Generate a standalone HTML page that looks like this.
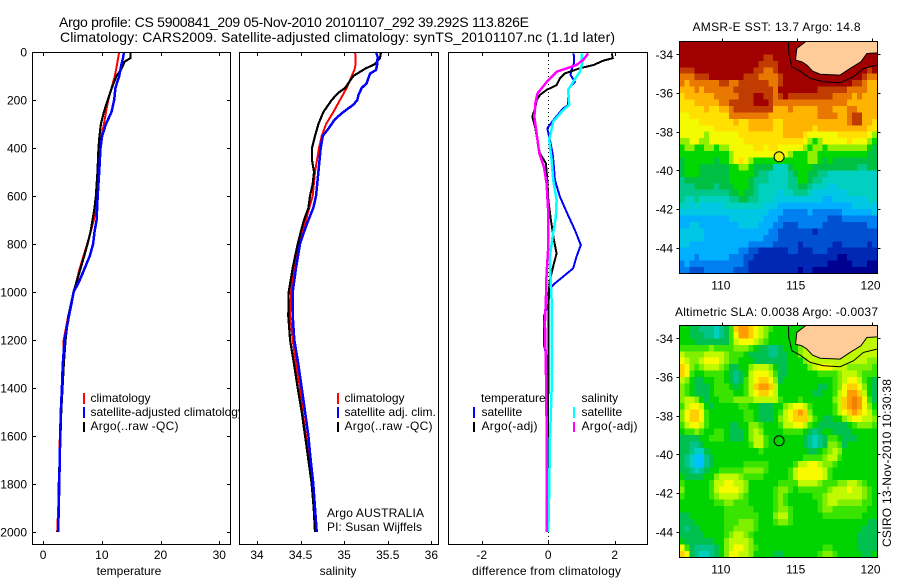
<!DOCTYPE html>
<html lang="en">
<head>
<meta charset="utf-8">
<title>Argo profile chart</title>
<style>
html,body{margin:0;padding:0;background:#fff;}
svg{display:block;font-family:"Liberation Sans",sans-serif;font-size:12px;fill:#000;}
text{fill:#000;}
</style>
</head>
<body>
<svg id="chart" xmlns="http://www.w3.org/2000/svg" width="900" height="580" viewBox="0 0 900 580">
<rect x="0" y="0" width="900" height="580" fill="#fff"/>
<text x="59" y="27" font-size="14" textLength="470" lengthAdjust="spacing">Argo profile: CS 5900841_209 05-Nov-2010 20101107_292 39.292S 113.826E</text>
<text x="60" y="42" font-size="14" textLength="555" lengthAdjust="spacing">Climatology: CARS2009. Satellite-adjusted climatology: synTS_20101107.nc (1.1d later)</text>

<g id="panel-temp">
  <g id="plot-temp"></g>
  <g>
    <rect x="83" y="393" width="2" height="11" fill="#f00"/>
    <text x="90.5" y="402">climatology</text>
    <rect x="83" y="407" width="2" height="11" fill="#00f"/>
    <text x="90.5" y="416">satellite-adjusted climatology</text>
    <rect x="83" y="422" width="2" height="10" fill="#000"/>
    <text x="90.5" y="430" textLength="88" lengthAdjust="spacing">Argo(..raw -QC)</text>
  </g>
  <text x="129" y="575" text-anchor="middle">temperature</text>
</g>

<g id="panel-sal">
  <rect x="239" y="52" width="200" height="493" fill="#fff"/>
  <g id="plot-sal"></g>
  <g>
    <rect x="337" y="393" width="2" height="11" fill="#f00"/>
    <text x="344.5" y="402">climatology</text>
    <rect x="337" y="407" width="2" height="11" fill="#00f"/>
    <text x="344.5" y="416">satellite adj. clim.</text>
    <rect x="337" y="422" width="2" height="10" fill="#000"/>
    <text x="344.5" y="430" textLength="88" lengthAdjust="spacing">Argo(..raw -QC)</text>
  </g>
  <text x="327" y="517" textLength="97" lengthAdjust="spacing">Argo AUSTRALIA</text>
  <text x="327" y="531" textLength="95" lengthAdjust="spacing">PI: Susan Wijffels</text>
  <text x="338" y="575" text-anchor="middle">salinity</text>
</g>

<g id="panel-diff">
  <rect x="448" y="52" width="200" height="493" fill="#fff"/>
  <g id="plot-diff"></g>
  <g>
    <text x="481" y="402">temperature</text>
    <rect x="473" y="407" width="2" height="11" fill="#00f"/>
    <text x="481.5" y="416">satellite</text>
    <rect x="473" y="422" width="2" height="10" fill="#000"/>
    <text x="481.5" y="430" textLength="56" lengthAdjust="spacing">Argo(-adj)</text>
    <text x="581.5" y="402">salinity</text>
    <rect x="573" y="407" width="2" height="11" fill="#0ff"/>
    <text x="581.5" y="416">satellite</text>
    <rect x="573" y="422" width="2" height="10" fill="#f0f"/>
    <text x="581.5" y="430" textLength="56" lengthAdjust="spacing">Argo(-adj)</text>
  </g>
  <text x="472" y="575" textLength="149" lengthAdjust="spacing">difference from climatology</text>
</g>

<g id="map-sst"></g>
<text x="692.5" y="31" textLength="168" lengthAdjust="spacing">AMSR-E SST: 13.7 Argo: 14.8</text>
<g id="map-sla"></g>
<text x="675" y="316" textLength="203" lengthAdjust="spacing">Altimetric SLA: 0.0038 Argo: -0.0037</text>
<text transform="translate(891,547) rotate(-90)" textLength="168" lengthAdjust="spacing">CSIRO 13-Nov-2010 10:30:38</text>
</svg>

<script>
// ---------- profile data ----------
const tempClimDepth = [0,50,100,150,200,250,300,350,400,500,600,700,800,900,1000,1100,1200,1400,1600,1800,2000];
const tempClim = [12.95,12.6,12.2,11.65,11.1,10.7,10.35,9.95,9.77,9.5,9.2,8.65,7.5,6.25,5.2,4.26,3.5,3.24,2.84,2.73,2.4];
const tempSatDepth = [0,20,50,100,150,200,250,300,350,400,500,600,700,750,800,850,900,950,1000,1100,1200,1300,1400,1500,1600,1700,1800,1900,2000];
const tempSat = [13.75,13.65,13.35,12.95,12.3,12.1,11.65,10.7,10.05,9.77,9.55,9.3,9.1,8.75,8.5,7.95,7.1,6.25,5.2,4.4,3.64,3.35,3.2,3.0,2.9,2.84,2.73,2.67,2.55];
const tempArgoDepth = [0,25,40,70,100,150,200,250,300,350,400,500,600,650,700,750,800,850,900,950,1000,1100,1200,1300,1400,1500,1600,1700,1800,1900,2000];
const tempArgo = [14.9,14.9,13.9,13.35,12.5,11.7,11,10.35,9.83,9.6,9.43,9.26,8.98,8.75,8.4,8.07,7.56,7,6.4,5.8,5.17,4.3,3.8,3.52,3.3,3.07,2.95,2.8,2.67,2.67,2.5];

const salClimDepth = [0,25,50,75,100,150,200,250,300,350,400,500,600,650,700,750,800,900,1000,1100,1200,1300,1400,1500,1600,1700,1800,1900,2000];
const salClim = [35.124,35.132,35.132,35.117,35.086,35.029,34.952,34.876,34.792,34.742,34.711,34.665,34.639,34.6,34.562,34.524,34.482,34.424,34.39,34.379,34.409,34.447,34.493,34.524,34.562,34.6,34.627,34.658,34.673];
const salSatDepth = [0,20,50,75,90,130,150,180,200,220,250,280,320,350,400,500,600,650,700,750,800,900,1000,1100,1200,1300,1400,1500,1600,1700,1800,1900,2000];
const salSat = [35.365,35.384,35.38,35.365,35.296,35.258,35.201,35.163,35.151,35.105,34.99,34.895,34.818,34.753,34.73,34.704,34.677,34.646,34.589,34.539,34.493,34.447,34.409,34.409,34.428,34.474,34.512,34.551,34.589,34.616,34.646,34.665,34.685];
const salArgoDepth = [0,25,50,70,100,150,170,200,250,300,350,400,450,500,550,600,650,700,750,800,900,1000,1100,1200,1300,1400,1500,1600,1700,1800,1900,2000];
const salArgo = [35.423,35.411,35.354,35.239,35.105,35.01,34.933,34.857,34.761,34.704,34.665,34.631,34.631,34.654,34.639,34.608,34.589,34.539,34.501,34.467,34.409,34.363,34.359,34.379,34.424,34.467,34.512,34.551,34.589,34.627,34.65,34.665];

const diffTempSatDepth = [6,19,47,75,96,124,151,193,221,235,276,318,367,422,478,533,603,672,742,804,853,901,964,985,1050,1100,1220,1270,1550,2000];
const diffTempSat = [.75,.78,.77,.70,.67,.80,.62,.60,.60,.45,.20,-.03,.05,.13,.17,.20,.35,.57,.80,.98,.85,.75,.20,.05,0,-.13,-.13,-.05,-.02,-.05];
const diffTempArgoDepth = [6,26,36,54,68,89,110,138,158,179,200,228,269,311,367,422,464,533,617,700,783,839,881,950,1019,1100,1400,2000];
const diffTempArgo = [1.91,1.94,1.66,1.36,.95,.5,.35,.25,-.05,-.25,-.35,-.38,-.48,-.40,-.33,-.25,-.07,-.03,0,.08,.17,.25,.17,.05,0,0,0,-.03];
const diffSalSatDepth = [6,47,82,124,158,221,242,290,367,450,533,617,686,769,853,950,1033,1130,1408,1617,1825,2000];
const diffSalSat = [1.0,1.02,.95,.75,.6,.63,.45,.15,.03,.1,.15,.25,.23,.13,.05,.07,.1,.1,.1,.05,.03,0];
const diffSalArgoDepth = [6,33,54,82,117,172,207,269,339,422,478,547,672,811,922,1033,1130,1310,1547,1686,2000];
const diffSalArgo = [1.2,1.05,.85,.25,0,-.32,-.38,-.42,-.35,-.27,-.13,-.05,0,0,-.05,-.07,-.1,-.07,-.05,-.04,-.05];

// ---------- tick labels ----------
const depthTicks = [0,200,400,600,800,1000,1200,1400,1600,1800,2000];
const tempTicks = [0,10,20,30];
const salTicks = [34,34.5,35,35.5,36];
const diffTicks = [-2,0,2];
const lonTicks = [110,115,120];
const latTicks = [-34,-36,-38,-40,-42,-44];

// ---------- map data (colour level per grid cell, north to south) ----------
const sstPalette = ['#000090','#0028b4','#0050d2','#0080f0','#00b0ff','#00c8e4','#00d0c0','#00c888','#00c044','#00d800','#90f000','#f4fa00','#ffe000','#ffb400','#e87800','#c03c00','#a00000'];
const slaPalette = ['#00c0ff','#00d0c0','#00c488','#00c050','#00d400','#38e400','#80f000','#c0fa00','#f8fa00','#ffd000','#ff9c00','#f08000'];
const sstLevels = [
[16,16,16,16,16,16,16,16,16,16,16,16,16,16,16,16,16,16,16,16,16,16,16,16,16,16,16,16,16,16,16,16,16,16,16,16,16,16,16,16],
[16,16,16,16,16,16,16,16,16,16,16,16,16,16,16,16,16,16,16,16,16,16,16,16,16,16,16,16,16,16,16,16,16,16,16,16,16,16,16,16],
[16,16,16,16,16,16,16,16,16,16,16,16,16,16,16,16,16,15,15,16,16,16,16,16,16,16,16,16,16,16,16,16,16,16,16,16,16,16,16,16],
[16,16,16,16,16,16,16,16,16,16,16,16,16,16,16,16,15,15,15,15,16,16,16,16,16,16,16,16,16,16,16,16,16,16,16,16,16,16,16,16],
[15,15,15,16,16,16,16,16,16,16,16,16,16,16,16,15,15,14,14,15,16,16,16,16,16,16,16,16,16,16,16,16,16,16,16,16,16,16,15,16],
[14,14,14,15,15,15,16,16,16,16,16,16,16,15,15,15,14,14,14,14,15,16,16,16,16,16,16,16,16,16,16,16,16,16,16,16,16,15,14,14],
[14,13,14,14,14,14,14,14,15,15,14,14,15,15,15,15,15,15,14,14,15,16,16,16,16,16,16,16,16,16,16,16,16,16,16,15,15,14,13,13],
[13,13,13,14,13,14,14,14,14,14,14,15,15,15,15,15,15,15,15,14,16,16,16,16,16,16,16,16,15,15,15,15,15,15,14,14,14,14,13,13],
[12,13,13,13,13,13,13,14,14,14,14,14,15,15,15,16,16,15,15,14,15,16,15,15,15,15,15,15,15,15,15,14,14,14,14,13,14,13,13,13],
[12,12,12,13,13,13,13,13,14,14,15,15,15,15,15,16,16,16,15,14,14,14,14,14,14,14,14,14,14,14,14,14,14,14,13,13,13,13,13,13],
[12,12,12,12,12,13,12,12,13,13,14,15,15,15,15,15,15,15,15,13,13,13,14,13,13,13,13,13,14,14,14,13,13,13,14,14,13,13,13,13],
[11,11,12,12,12,12,12,12,12,12,14,14,14,14,14,14,14,14,13,13,13,13,13,13,13,13,13,13,14,14,14,14,13,13,14,15,15,13,13,13],
[11,11,11,11,12,12,12,12,12,12,12,13,12,12,13,13,13,13,13,12,12,13,13,13,13,13,13,13,13,13,13,13,13,13,14,15,15,13,13,12],
[11,11,11,11,11,11,11,12,12,12,12,12,12,12,13,13,13,13,13,12,12,13,13,13,13,13,13,12,13,13,13,13,13,13,13,13,13,13,12,12],
[11,11,11,11,11,10,11,11,11,11,11,11,12,12,12,12,12,12,12,12,12,13,13,13,13,12,11,11,11,11,11,11,12,12,12,12,12,12,11,10],
[10,10,11,11,10,10,11,11,11,11,11,11,11,12,12,12,12,12,12,12,12,12,12,12,12,11,10,9,10,11,11,11,11,11,12,11,11,11,10,9],
[9,10,10,9,9,10,10,9,10,10,11,11,11,11,11,12,12,11,12,12,11,11,11,11,11,10,9,10,10,9,10,10,10,10,10,10,10,10,9,8],
[9,9,9,9,9,9,9,9,9,9,10,11,11,11,11,11,11,11,11,11,11,11,10,9,9,9,10,10,9,9,9,9,9,9,9,9,9,9,8,8],
[8,9,9,9,9,9,9,8,9,9,10,11,12,11,10,9,9,9,9,9,9,9,9,9,9,9,10,10,9,8,9,8,8,8,8,8,8,8,8,8],
[8,9,9,9,8,8,8,8,8,8,9,9,10,10,9,8,8,8,8,6,6,6,8,9,9,9,9,8,8,8,8,8,8,8,8,8,7,7,8,8],
[8,9,9,9,8,8,8,8,8,8,9,9,9,9,9,8,7,7,6,6,6,6,7,8,9,9,8,8,7,7,6,6,6,6,6,6,6,6,6,6],
[7,8,8,8,8,8,8,8,8,8,9,9,9,9,8,7,7,7,6,6,6,6,7,7,9,9,8,7,7,6,6,6,6,6,6,6,6,6,6,6],
[7,7,7,8,8,8,8,7,8,8,8,9,9,9,8,7,6,6,6,6,6,6,7,7,8,8,7,6,6,6,5,5,6,6,6,6,6,6,6,6],
[7,7,7,7,7,7,7,7,7,7,8,8,9,8,8,7,6,6,6,6,5,6,6,7,7,7,6,5,5,5,5,5,5,5,6,6,6,6,6,6],
[7,6,6,7,6,6,6,6,6,6,7,7,8,8,7,7,6,6,6,5,5,5,5,5,5,5,5,5,5,4,4,5,5,5,5,5,5,5,6,6],
[6,6,5,6,5,5,5,5,5,6,6,6,6,6,6,6,6,5,5,5,4,4,4,4,4,4,4,4,4,4,4,4,4,4,4,5,5,5,5,5],
[5,5,5,5,5,5,5,5,5,5,5,5,5,5,5,5,5,5,4,4,4,3,3,3,3,3,4,3,3,3,3,3,3,4,4,4,4,4,4,5],
[4,4,4,4,4,4,4,4,4,4,5,5,5,5,5,5,5,4,4,4,3,3,3,3,3,3,3,3,3,3,2,2,2,3,3,3,3,3,3,3],
[4,4,5,5,4,4,4,4,4,4,4,4,5,5,5,5,4,4,4,3,3,2,2,2,3,3,3,3,3,2,2,2,2,2,2,2,2,2,3,3],
[5,5,5,5,5,4,4,4,4,4,4,4,4,4,4,4,4,4,3,3,2,2,2,2,2,2,2,1,2,2,2,2,2,2,2,2,2,2,2,2],
[5,5,5,5,5,4,4,4,4,4,4,4,4,4,4,4,4,3,3,3,2,2,2,2,2,2,2,2,2,2,2,2,2,2,2,2,2,2,2,2],
[5,5,4,4,4,4,4,4,4,4,4,4,4,4,3,3,3,3,3,2,2,2,2,2,1,2,2,2,2,2,2,1,1,2,2,2,2,2,1,2],
[4,4,4,4,4,4,4,4,4,4,4,4,3,3,2,2,1,1,1,1,1,1,2,2,1,1,1,2,2,2,1,1,1,1,1,1,1,1,1,1],
[4,4,4,3,4,4,4,4,4,4,3,3,3,2,2,1,1,1,1,1,1,1,1,1,1,1,1,1,1,1,1,1,0,0,1,1,1,1,1,1],
[3,4,3,3,3,3,3,3,3,3,3,3,3,2,1,1,1,1,1,1,1,1,1,1,1,1,1,1,1,1,0,0,0,0,0,1,1,1,0,0],
[3,3,2,2,2,3,3,3,3,3,3,2,2,2,1,1,1,1,1,1,1,1,1,1,0,1,1,0,0,0,0,0,0,0,0,0,0,0,0,0]
];
const slaLevels = [
[4,4,3,3,2,2,2,1,2,3,5,9,10,10,9,8,7,6,5,4,4,4,4,4,4,5,6,7,7,7,7,7,7,7,7,7,7,7,7,7],
[4,4,3,3,3,2,2,1,2,3,5,8,10,10,9,8,7,6,4,4,4,4,4,4,5,6,7,7,7,7,7,7,7,7,7,7,7,7,7,7],
[4,4,4,3,3,3,3,3,3,3,5,7,8,8,8,7,6,5,4,4,4,4,4,4,6,7,7,7,7,7,7,7,7,7,7,7,7,7,7,7],
[5,5,5,5,5,5,6,5,5,5,5,6,6,6,5,4,3,3,2,2,3,4,4,4,6,7,7,7,7,7,7,7,7,7,7,7,7,7,7,7],
[7,6,6,6,6,7,7,7,7,6,5,5,5,4,3,3,3,3,2,2,3,3,4,4,6,7,7,7,7,7,7,7,7,7,7,7,7,7,7,7],
[8,7,6,6,7,8,8,8,7,6,5,5,4,4,4,3,3,3,3,3,3,3,4,4,4,6,7,7,7,7,7,7,7,7,7,7,7,7,6,6],
[9,8,6,5,6,7,7,7,6,5,3,3,4,4,6,7,7,7,6,4,3,3,4,4,4,4,6,7,8,8,8,7,7,7,6,6,6,6,6,5],
[9,8,5,4,4,5,5,5,5,4,3,2,3,4,7,8,8,8,7,5,3,3,4,4,4,4,4,4,5,5,5,5,6,7,7,7,6,5,5,5],
[7,6,4,3,3,4,4,5,5,4,3,2,3,5,7,8,9,9,8,6,3,4,4,4,4,4,4,4,4,4,4,5,6,7,8,8,7,5,4,3],
[6,5,4,3,3,3,4,5,5,5,4,3,4,5,7,9,10,10,9,7,4,4,4,4,4,4,4,4,3,3,4,5,6,8,9,9,8,6,4,3],
[6,5,4,3,3,3,4,5,5,5,5,4,4,5,7,8,9,9,8,7,4,4,4,4,4,4,4,3,3,4,4,5,7,8,10,10,9,7,4,3],
[6,7,7,6,4,3,4,4,5,5,5,6,6,6,6,7,7,7,7,7,5,4,4,4,5,4,4,4,4,4,4,6,7,9,10,11,10,8,5,3],
[5,7,8,8,7,4,3,4,4,4,4,4,5,5,4,4,3,3,3,4,4,6,7,8,8,7,5,4,4,4,4,5,7,9,10,11,10,8,6,4],
[6,8,9,9,8,5,4,4,4,4,4,4,4,5,5,4,3,3,3,4,5,7,8,9,10,9,6,4,4,4,4,5,7,8,9,10,9,8,7,5],
[6,8,9,9,8,5,4,4,4,4,4,4,4,5,5,4,3,3,3,4,6,7,8,9,9,9,7,5,4,3,3,4,4,6,7,8,8,7,7,6],
[5,7,8,8,7,5,4,4,4,4,3,3,4,4,6,6,5,4,4,4,5,7,7,8,8,7,5,4,3,3,3,3,3,3,4,5,6,6,6,5],
[4,5,5,6,5,4,4,5,5,4,3,3,3,4,6,7,6,4,4,4,4,5,5,5,5,4,3,2,3,4,4,3,3,3,3,4,4,4,4,4],
[3,3,3,3,4,4,5,5,5,4,3,3,3,4,6,7,7,5,4,4,4,4,4,4,4,3,2,1,2,3,5,5,4,3,3,3,4,4,4,4],
[3,3,2,2,3,4,4,4,4,4,4,4,4,4,5,7,7,5,4,4,4,4,4,4,4,3,2,1,2,3,6,6,5,3,4,4,4,4,4,4],
[3,3,2,1,1,3,4,4,4,4,4,4,4,4,4,4,5,4,4,4,4,4,4,4,4,4,3,3,4,5,6,7,6,4,4,4,4,4,4,4],
[3,2,1,0,0,2,3,4,4,4,4,4,4,4,4,4,4,4,4,4,4,4,4,4,4,5,5,5,5,6,7,7,5,4,4,4,4,4,4,4],
[3,2,1,0,0,2,3,4,4,4,4,4,4,5,5,5,5,5,4,4,4,4,4,5,7,7,8,8,7,6,6,5,4,4,4,4,4,4,4,4],
[3,3,2,1,2,3,4,4,5,5,5,5,5,6,6,6,6,5,4,4,4,4,5,7,8,8,8,8,8,7,5,4,4,4,4,4,4,4,4,4],
[4,3,3,3,3,4,4,6,7,7,7,7,6,5,5,5,5,4,4,4,4,4,5,7,8,8,8,8,8,7,5,4,4,4,4,4,4,4,4,4],
[5,4,4,4,4,4,5,7,7,8,8,7,7,6,4,4,4,4,4,4,5,5,5,5,7,7,7,7,6,5,5,5,6,6,7,7,6,5,4,4],
[6,4,4,4,4,4,5,7,8,8,8,8,7,6,4,4,4,4,4,5,6,6,5,4,5,5,5,5,5,5,6,7,7,7,8,7,7,6,5,4],
[5,4,4,4,4,4,5,6,7,7,7,7,6,5,4,4,4,4,4,5,6,5,4,4,4,4,4,5,5,6,7,7,7,7,7,7,7,6,5,4],
[4,4,4,4,4,4,4,5,5,6,6,5,5,5,4,4,4,4,4,5,6,5,4,4,4,4,4,4,5,6,7,7,6,6,6,6,6,5,5,4],
[4,4,4,4,4,4,4,4,4,5,5,5,5,5,5,4,4,4,4,5,6,6,5,4,4,4,4,4,5,6,6,5,5,5,5,5,5,5,4,4],
[3,3,4,4,4,4,4,4,4,5,5,5,5,5,5,5,4,4,4,6,7,7,5,4,4,4,4,4,4,5,5,5,5,5,5,5,5,4,4,4],
[3,3,3,4,4,4,4,4,4,5,5,5,6,6,6,5,4,4,4,5,6,6,5,4,4,4,4,4,4,4,4,4,4,4,4,4,4,4,3,3],
[3,2,3,3,4,4,4,4,4,5,5,6,6,6,6,5,4,4,4,4,4,4,4,4,4,4,4,4,4,4,4,4,4,4,4,4,4,3,3,3],
[3,3,3,3,3,4,4,4,4,5,6,7,7,6,5,4,4,4,4,4,4,4,4,4,4,4,4,4,4,4,4,4,4,4,4,4,3,3,3,3],
[4,3,3,3,3,3,3,4,4,6,7,7,7,7,6,4,4,4,4,4,4,4,4,4,4,4,4,4,4,4,4,4,4,4,4,4,3,3,3,3],
[8,5,3,2,2,2,2,3,4,6,7,8,8,7,6,5,4,4,4,4,4,4,4,4,4,4,4,4,4,5,5,4,4,4,4,4,3,3,3,3],
[9,8,3,2,1,1,2,3,4,6,8,8,7,7,6,4,4,4,4,3,3,4,4,4,4,4,4,4,5,6,6,5,4,4,4,4,4,3,3,4]
];
const coastLon = [115.61,115.01,114.92,115.34,115.68,116.06,116.57,117.9,118.57,119.29,119.69,120.4,120.4];
const coastLat = [-33.33,-33.69,-34.29,-34.38,-34.55,-34.86,-35.02,-35.07,-34.72,-34.38,-33.95,-33.92,-33.33];
const shelfLon = [114.45,114.47,114.68,115.23,115.9,116.79,117.9,118.8,119.46,120.35];
const shelfLat = [-33.33,-33.95,-34.64,-34.86,-35.24,-35.41,-35.46,-35.15,-34.72,-34.55];
const floatLon = [113.826];
const floatLat = [-39.292];

// ---------- axis functions ----------
const NS = 'http://www.w3.org/2000/svg';
const linear = (d0,d1,r0,r1) => v => r0 + (v-d0)*(r1-r0)/(d1-d0);
const yDepth = linear(0,2054,52,545);
const xTemp = linear(-1.9,32,32,231);
const xSal = linear(33.793,36.088,239,439);
const xDiff = linear(-3,3,448.5,648);
const xLon = linear(107.17,120.4,679.5,877.5);

function mk(parent, tag, attrs, text){
  const el = document.createElementNS(NS, tag);
  for (const k in attrs) el.setAttribute(k, attrs[k]);
  if (text !== undefined) el.textContent = text;
  parent.appendChild(el);
  return el;
}
function profile(parent, depths, values, xf, color, w, name){
  const pts = depths.map((d,i) => xf(values[i]).toFixed(1)+','+yDepth(d).toFixed(1)).join(' ');
  const el = mk(parent,'polyline',{points:pts,fill:'none',stroke:color,'stroke-width':w,'shape-rendering':'crispEdges'});
  
  
}
function frame(parent, x0, x1, xf, ticks, showDepth){
  const box = mk(parent,'rect',{x:x0+.5,y:52.5,width:x1-x0-1,height:492,fill:'none',stroke:'#000','stroke-width':1,'shape-rendering':'crispEdges'});
  
  
  ticks.forEach(t => {
    const x = Math.round(xf(t))+.5;
    [[52,56],[541,545]].forEach(p => {
      const tk = mk(parent,'line',{x1:x,x2:x,y1:p[0],y2:p[1],stroke:'#000','shape-rendering':'crispEdges'});
      
      
    });
    const lb = mk(parent,'text',{x:xf(t),y:559,'text-anchor':'middle'},String(t));
    
    
  });
  if (showDepth) depthTicks.forEach(d => {
    const y = Math.round(yDepth(d))+.5;
    [[x0,x0+4],[x1-4,x1]].forEach(p => {
      const tk = mk(parent,'line',{x1:p[0],x2:p[1],y1:y,y2:y,stroke:'#000','shape-rendering':'crispEdges'});
      
      
    });
    const lb = mk(parent,'text',{x:27,y:yDepth(d)+4.5,'text-anchor':'end'},String(d));
    
    
  });
}

// ---------- profile panels ----------
const pTemp = document.getElementById('plot-temp');
profile(pTemp,tempClimDepth,tempClim,xTemp,'#f00',2,'temperature-climatology-line');
profile(pTemp,tempArgoDepth,tempArgo,xTemp,'#000',2.2,'temperature-argo-line');
profile(pTemp,tempSatDepth,tempSat,xTemp,'#00f',2.5,'temperature-satellite-line');
frame(pTemp,32,231,xTemp,tempTicks,true);

const pSal = document.getElementById('plot-sal');
profile(pSal,salClimDepth,salClim,xSal,'#f00',2,'salinity-climatology-line');
profile(pSal,salArgoDepth,salArgo,xSal,'#000',2.2,'salinity-argo-line');
profile(pSal,salSatDepth,salSat,xSal,'#00f',2.5,'salinity-satellite-line');
frame(pSal,239,439,xSal,salTicks,false);

const pDiff = document.getElementById('plot-diff');
const zero = mk(pDiff,'line',{x1:xDiff(0),x2:xDiff(0),y1:52,y2:545,stroke:'#000','stroke-dasharray':'1 3','shape-rendering':'crispEdges'});


profile(pDiff,diffTempSatDepth,diffTempSat,xDiff,'#00f',2,'diff-temperature-satellite-line');
profile(pDiff,diffTempArgoDepth,diffTempArgo,xDiff,'#000',2,'diff-temperature-argo-line');
profile(pDiff,diffSalSatDepth,diffSalSat,xDiff,'#0ff',2.5,'diff-salinity-satellite-line');
profile(pDiff,diffSalArgoDepth,diffSalArgo,xDiff,'#f0f',2.5,'diff-salinity-argo-line');
frame(pDiff,448,648,xDiff,diffTicks,false);

// ---------- maps ----------
function drawMap(g, levels, palette, yTop, markerFill, clipId, cellName){
  const yLat = linear(-33.33,-45.33,yTop,yTop+232);
  const rows = levels.length, cols = levels[0].length;
  const lonStep = (120.35-107.17)/cols, latStep = 12/rows;
  const defs = mk(g,'defs',{});
  const clip = mk(defs,'clipPath',{id:clipId});
  mk(clip,'rect',{x:679.5,y:yTop,width:198,height:232});
  levels.forEach((row,j) => row.forEach((v,i) => {
    const x0 = xLon(107.17+i*lonStep), x1 = xLon(107.17+(i+1)*lonStep);
    const y0 = yLat(-33.33-j*latStep), y1 = yLat(-33.33-(j+1)*latStep);
    const c = mk(g,'rect',{x:x0,y:y0,width:x1-x0,height:y1-y0,fill:palette[v],'shape-rendering':'crispEdges'});
    
    
  }));
  const land = mk(g,'polygon',{points:coastLon.map((l,i)=>xLon(l).toFixed(1)+','+yLat(coastLat[i]).toFixed(1)).join(' '),fill:'#ffcc99',stroke:'#000','stroke-width':1,'clip-path':'url(#'+clipId+')'});
  
  
  const shelf = mk(g,'polyline',{points:shelfLon.map((l,i)=>xLon(l).toFixed(1)+','+yLat(shelfLat[i]).toFixed(1)).join(' '),fill:'none',stroke:'#000','stroke-width':1});
  
  
  const m = mk(g,'circle',{cx:xLon(floatLon[0]),cy:yLat(floatLat[0]),r:5,fill:markerFill,stroke:'#000','stroke-width':1});
  
  
  const box = mk(g,'rect',{x:679.5,y:yTop,width:198,height:232,fill:'none',stroke:'#000','shape-rendering':'crispEdges'});
  
  
  lonTicks.forEach(t => {
    const x = Math.round(xLon(t))+.5;
    const tk = mk(g,'line',{x1:x,x2:x,y1:yTop-3,y2:yTop,stroke:'#000','shape-rendering':'crispEdges'});
    
    
    const lb = mk(g,'text',{x:xLon(t)-1,y:yTop+248,'text-anchor':'middle'},String(t));
    
    
  });
  latTicks.forEach(t => {
    const y = Math.round(yLat(t))+.5;
    [[676.5,679.5],[877.5,880.5]].forEach(p => {
      const tk = mk(g,'line',{x1:p[0],x2:p[1],y1:y,y2:y,stroke:'#000','shape-rendering':'crispEdges'});
      
      
    });
    const lb = mk(g,'text',{x:673,y:yLat(t)+4.5,'text-anchor':'end'},String(t));
    
    
  });
}
drawMap(document.getElementById('map-sst'),sstLevels,sstPalette,41.5,'#f0f000','clip-sst','sst-cell');
drawMap(document.getElementById('map-sla'),slaLevels,slaPalette,325.5,'none','clip-sla','sla-cell');
</script>
</body>
</html>
